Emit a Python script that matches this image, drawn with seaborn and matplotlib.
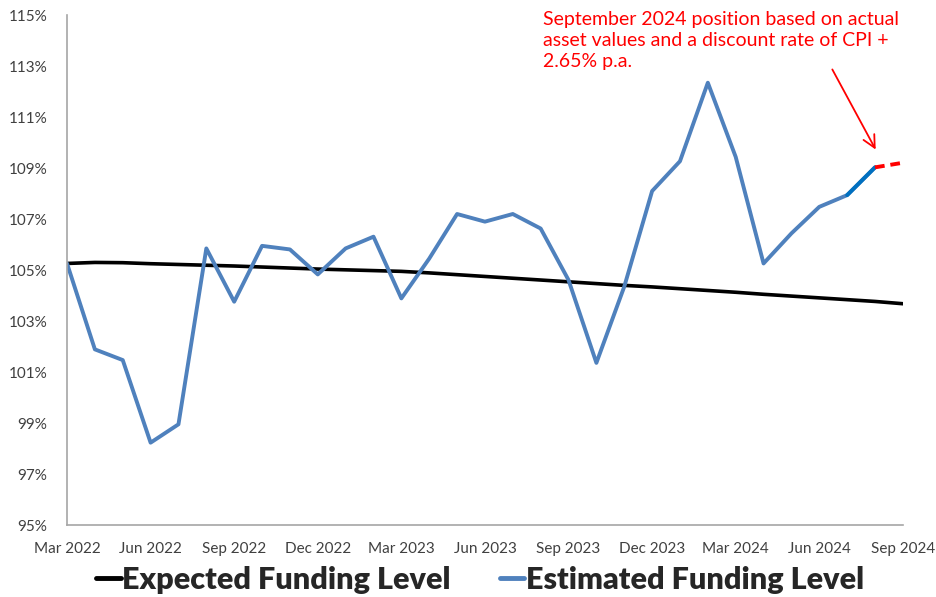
import numpy as np
import pandas as pd
import matplotlib
matplotlib.use("Agg")
import matplotlib.pyplot as plt
from matplotlib.lines import Line2D
import seaborn as sns

# =========================
# DATA
# =========================
months = ["Mar 2022", "Apr 2022", "May 2022", "Jun 2022", "Jul 2022", "Aug 2022",
          "Sep 2022", "Oct 2022", "Nov 2022", "Dec 2022", "Jan 2023", "Feb 2023",
          "Mar 2023", "Apr 2023", "May 2023", "Jun 2023", "Jul 2023", "Aug 2023",
          "Sep 2023", "Oct 2023", "Nov 2023", "Dec 2023", "Jan 2024", "Feb 2024",
          "Mar 2024", "Apr 2024", "May 2024", "Jun 2024", "Jul 2024", "Aug 2024",
          "Sep 2024"]

expected = [105.26, 105.30, 105.29, 105.25, 105.22, 105.19, 105.16, 105.12, 105.08,
            105.04, 105.01, 104.98, 104.95, 104.89, 104.82, 104.75, 104.68, 104.61,
            104.54, 104.47, 104.40, 104.34, 104.27, 104.20, 104.13, 104.05, 103.98,
            103.91, 103.84, 103.77, 103.68]

# estimated funding level, monthly to Aug 2024
estimated = [105.26, 101.89, 101.47, 98.23, 98.95, 105.85, 103.76, 105.95, 105.81,
             104.83, 105.85, 106.31, 103.89, 105.45, 107.20, 106.90, 107.20, 106.63,
             104.61, 101.36, 104.35, 108.10, 109.27, 112.35, 109.44, 105.26, 106.44,
             107.48, 107.94, 109.03]

# September 2024 position (actual assets, CPI + 2.65%)
sep_2024 = 109.21

tick_labels = months[::3]
annotation = ("September 2024 position based on actual\n"
              "asset values and a discount rate of CPI +\n"
              "2.65% p.a.")

df_exp = pd.DataFrame({"m": np.arange(len(expected)), "v": expected})
df_est = pd.DataFrame({"m": np.arange(len(estimated)), "v": estimated})
df_last = df_est.tail(2)
df_sep = pd.DataFrame({"m": [len(estimated) - 1, len(estimated)],
                       "v": [estimated[-1], sep_2024]})

# =========================
# STYLE
# =========================
sns.set_theme(style="white")
plt.rcParams["font.family"] = ["Lato", "DejaVu Sans"]

fig = plt.figure(figsize=(9.36, 5.97), dpi=100)
ax = fig.add_axes([0.0716, 0.1206, 0.893, 0.854])

sns.lineplot(data=df_exp, x="m", y="v", color="black", lw=2.6, ax=ax)
sns.lineplot(data=df_est, x="m", y="v", color="#4F81BD", lw=2.8, ax=ax)
sns.lineplot(data=df_last, x="m", y="v", color="#0070C0", lw=2.8, ax=ax)
sns.lineplot(data=df_sep, x="m", y="v", color="#FF0000", lw=2.8,
             linestyle=(0, (2.5, 1.5)), ax=ax)

ax.set_xlim(0, 30)
ax.set_ylim(95, 115)
ax.set_xticks(np.arange(0, 31, 3))
ax.set_xticklabels(tick_labels)
ax.set_yticks(np.arange(95, 116, 2))
ax.set_yticklabels([f"{v}%" for v in range(95, 116, 2)])
ax.tick_params(axis="both", length=0, labelsize=11, colors="#404040")
ax.tick_params(axis="x", pad=12)
ax.tick_params(axis="y", pad=14)
ax.set_xlabel("")
ax.set_ylabel("")

sns.despine(ax=ax)
for s in ["left", "bottom"]:
    ax.spines[s].set_color("#A6A6A6")
    ax.spines[s].set_linewidth(1.2)

# annotation
fig.text(543 / 936, 1 - 11 / 597, annotation, ha="left", va="top",
         color="red", fontsize=14, linespacing=1.3)
ax.annotate("", xy=(877 / 936, 1 - 152 / 597), xytext=(831 / 936, 1 - 67 / 597),
            xycoords="figure fraction", textcoords="figure fraction",
            arrowprops=dict(arrowstyle="->", color="red", lw=1.3,
                            mutation_scale=22))

# legend
handles = [Line2D([0], [0], color="black", lw=3.5),
           Line2D([0], [0], color="#4F81BD", lw=3.5)]
fig.legend(handles, ["Expected Funding Level", "Estimated Funding Level"],
           loc="center", bbox_to_anchor=(0.513, 1 - 580 / 597), ncol=2, frameon=False,
           handlelength=0.8, handletextpad=0.05, columnspacing=1.6,
           prop={"size": 22, "weight": "heavy"})

plt.savefig("out.png", dpi=100)
